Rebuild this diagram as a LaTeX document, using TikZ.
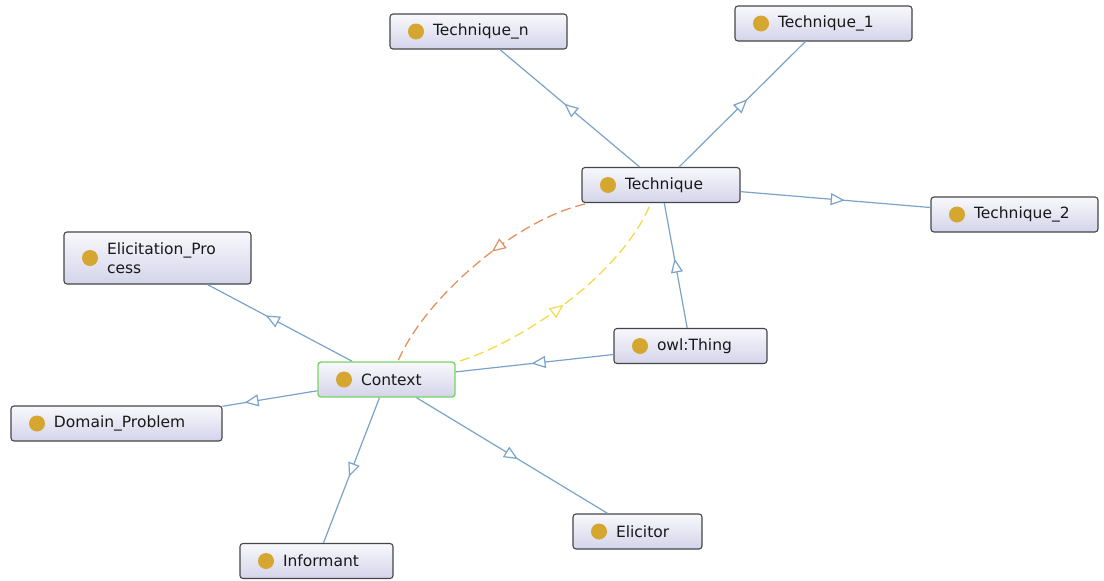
\documentclass[tikz,border=0pt]{standalone}
\usepackage{fontspec}
\newfontfamily\uifont{DejaVu Sans}
\usetikzlibrary{arrows.meta,decorations.markings}

\definecolor{edgeblue}{RGB}{122,163,201}
\definecolor{boxtop}{RGB}{248,248,252}
\definecolor{boxbottom}{RGB}{212,212,234}
\definecolor{boxborder}{RGB}{70,70,74}
\definecolor{ctxborder}{RGB}{118,214,100}
\definecolor{classdot}{RGB}{213,166,48}
\definecolor{linkorange}{RGB}{226,146,94}
\definecolor{linkyellow}{RGB}{246,218,74}

\tikzset{
  cls/.style={rectangle, rounded corners=3pt, draw=boxborder, line width=1.1pt,
    top color=boxtop, bottom color=boxbottom,
    minimum width=#1, text width=#1, minimum height=35pt,
    inner xsep=0pt, inner ysep=2pt, align=left,
    font=\uifont\fontsize{15.5pt}{19pt}\selectfont, text=black!90,
    execute at begin node={\leftskip=43pt\relax},
    path picture={\fill[classdot] ([xshift=26pt]path picture bounding box.west) circle (8pt);}},
  current/.style={draw=ctxborder, line width=1.4pt},
  opentip/.tip={Triangle[length=14pt,width=12pt,fill=white,line width=1.2pt]},
  isa/.style={draw=edgeblue, line width=1.2pt},
  isatip/.style={edgeblue, decoration={markings,
    mark=at position 0.5 with {\arrow[xshift=7pt]{opentip}}}, postaction=decorate},
  link/.style={dash pattern=on 10pt off 5pt, line width=1.3pt},
  linktip/.style={decoration={markings,
    mark=at position #1 with {\arrow{opentip}}}, postaction=decorate}
}

% subclass edge: line between box borders, open tip at the middle of the centre line
\newcommand\isaedge[2]{%
  \draw[isa] (#1) -- (#2);
  \path[isatip] (#1.center) -- (#2.center);}

\begin{document}
\begin{tikzpicture}[x=1pt,y=-1pt]
\useasboundingbox[fill=white] (0,0) rectangle (1104,581);

% classes
\node[cls=177pt] (tn)   at (478.5,31.5)  {Technique\_n};
\node[cls=177pt] (t1)   at (823.5,23.5)  {Technique\_1};
\node[cls=158pt] (tech) at (661,185)     {Technique};
\node[cls=167pt] (t2)   at (1014.5,214.5) {Technique\_2};
\node[cls=187pt, minimum height=52pt] (ep) at (157.5,258) {Elicitation\_Pro\\cess};
\node[cls=153pt] (owl)  at (690.5,346)   {owl:Thing};
\node[cls=137pt, current] (ctx) at (386.5,379.5) {Context};
\node[cls=211pt] (dp)   at (116.5,423.5) {Domain\_Problem};
\node[cls=129pt] (el)   at (637.5,531.5) {Elicitor};
\node[cls=153pt] (inf)  at (316.5,561)   {Informant};

% subclass edges
\isaedge{tech}{tn}
\isaedge{tech}{t1}
\isaedge{tech}{t2}
\isaedge{owl}{tech}
\isaedge{owl}{ctx}
\isaedge{ctx}{ep}
\isaedge{ctx}{dp}
\isaedge{ctx}{inf}
\isaedge{ctx}{el}

% object property links between Technique and Context
\coordinate (tA) at (585,204);
\coordinate (cA) at (398,361);
\coordinate (cB) at (460,361);
\coordinate (tB) at (650,205);
\draw[link, draw=linkorange, linktip=0.42, color=linkorange]
  (tA) .. controls (515,220) and (425,298) .. (cA);
\draw[link, draw=linkyellow, linktip=0.47, color=linkyellow]
  (cB) .. controls (525,340) and (620,275) .. (tB);
\end{tikzpicture}
\end{document}
